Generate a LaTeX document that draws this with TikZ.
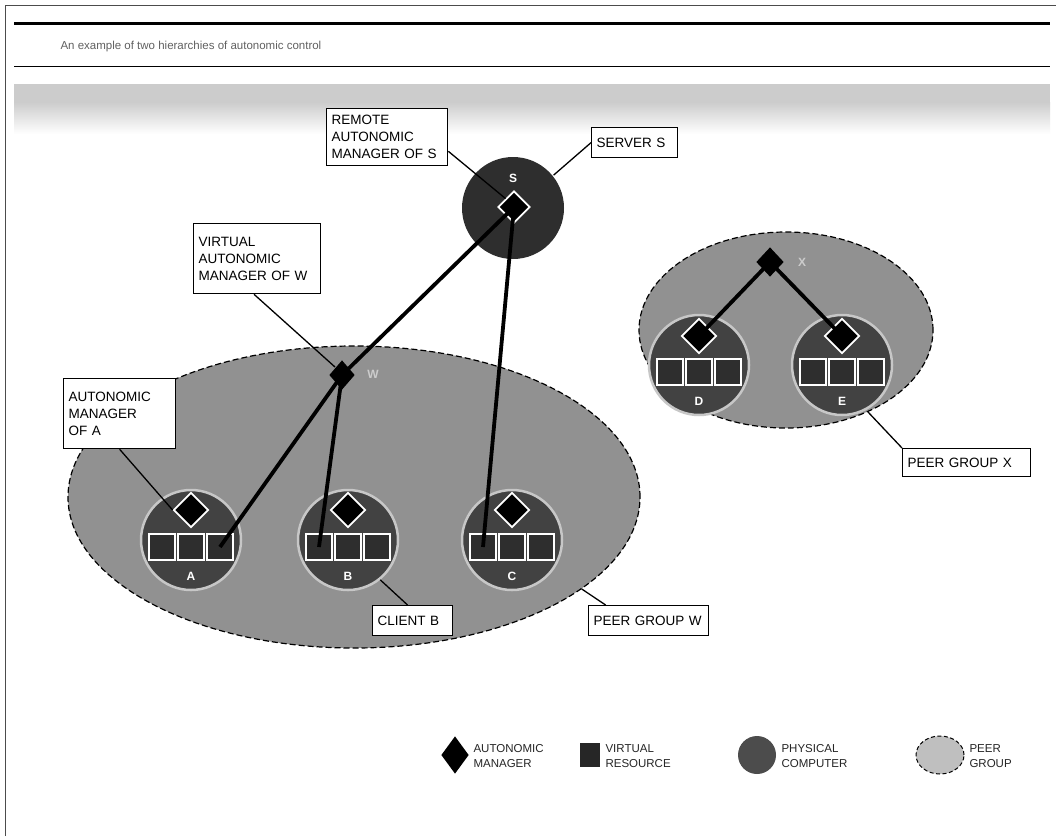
\documentclass[tikz,border=0pt]{standalone}
\usepackage{fontspec}
\setmainfont{Liberation Sans}
\usetikzlibrary{shapes.geometric,calc}

\newcommand{\calloutfont}{\fontsize{13.5}{17}\selectfont}
\newcommand{\legendfont}{\fontsize{11.5}{15}\selectfont}

\begin{document}
\begin{tikzpicture}[x=1pt,y=-1pt,
  peergroup/.style={ellipse, draw=black, line width=1.2, dash pattern=on 6 off 3,
                    fill=black!43, inner sep=0},
  computer/.style={circle, fill=black!74, draw=black!22, line width=2.5,
                   minimum size=100, inner sep=0},
  manager/.style={diamond, fill=black, draw=white, line width=1.8,
                  minimum width=35, minimum height=35, inner sep=0},
  resource/.style={rectangle, fill=black!82, draw=white, line width=1.5,
                   minimum size=26, inner sep=0},
  control/.style={line width=3.8, black},
  leader/.style={line width=1.3, black},
  callout/.style={draw, line width=1.3, fill=white, align=left, anchor=north west,
                  inner xsep=5, inner ysep=0, font=\calloutfont},
  pclabel/.style={text=white, font=\bfseries\fontsize{12}{12}\selectfont},
  legendtext/.style={anchor=west, align=left, font=\legendfont, text=black!85}
]
\useasboundingbox (0,0) rectangle (1056,836);
\fill[white] (0,0) rectangle (1056,836);

% page frame and title rules
\coordinate (frameTL) at (5,5);
\coordinate (frameTR) at (1056,5);
\coordinate (frameBL) at (5,836);
\draw[line width=1, black!70] (frameBL) -- (frameTL) -- (frameTR);
\coordinate (ruleA1) at (14,23);
\coordinate (ruleA2) at (1050,23);
\draw[line width=3] (ruleA1) -- (ruleA2);
\coordinate (ruleB1) at (14,66);
\coordinate (ruleB2) at (1050,66);
\draw[line width=1] (ruleB1) -- (ruleB2);
\node[anchor=base west, text=black!62, font=\fontsize{11.5}{14}\selectfont] (title)
  at (57,49) {An example of two hierarchies of autonomic control};

% grey band under the heading
\fill[black!20] (14,84) rectangle (1050,102);
\shade[top color=black!20, bottom color=white] (14,102) rectangle (1050,134);

% peer groups
\node[peergroup, minimum width=572, minimum height=302] (pgW) at (354,497) {};
\node[peergroup, minimum width=294, minimum height=196] (pgX) at (786,330) {};

% physical computers
\node[computer, fill=black!82, draw=none, minimum size=102] (pcS) at (513,208) {};
\node[computer] (pcA) at (191,540) {};
\node[computer] (pcB) at (348,540) {};
\node[computer] (pcC) at (512,540) {};
\node[computer] (pcD) at (699,365) {};
\node[computer] (pcE) at (842,365) {};

% computer names
\node[pclabel] (nameS) at (513,178) {S};
\node[pclabel] (nameA) at (191,576) {A};
\node[pclabel] (nameB) at (348,576) {B};
\node[pclabel] (nameC) at (512,576) {C};
\node[pclabel] (nameD) at (699,401) {D};
\node[pclabel] (nameE) at (842,401) {E};
\node[pclabel, text=white!80!black] (nameW) at (373,374) {W};
\node[pclabel, text=white!80!black] (nameX) at (802,262) {X};

% virtual resources
\foreach \c/\x/\y in {A/191/547, B/348/547, C/512/547, D/699/372, E/842/372} {
  \node[resource] (vr\c1) at (\x-29,\y) {};
  \node[resource] (vr\c2) at (\x,\y) {};
  \node[resource] (vr\c3) at (\x+29,\y) {};
}

% callouts
\node[callout, text width=111, minimum height=57] (lblRemote) at (326,108)
  {REMOTE\\AUTONOMIC\\MANAGER OF S};
\node[callout, text width=76, minimum height=30] (lblServer) at (591,127) {SERVER S};
\node[callout, text width=117, minimum height=70] (lblVirtual) at (193,223)
  {VIRTUAL\\AUTONOMIC\\MANAGER OF W};
\node[callout, text width=102, minimum height=70] (lblA) at (63,378)
  {AUTONOMIC\\MANAGER\\OF A};
\node[callout, text width=70, minimum height=30] (lblClient) at (372,605) {CLIENT B};
\node[callout, text width=110, minimum height=30] (lblPeerW) at (588,605) {PEER GROUP W};
\node[callout, text width=118, minimum height=28] (lblPeerX) at (902,448) {PEER GROUP X};

% autonomic managers
\node[manager, minimum width=32, minimum height=32] (amS) at (514,207) {};
\node[manager] (amA) at (191,510) {};
\node[manager] (amB) at (348,510) {};
\node[manager] (amC) at (512,510) {};
\node[manager] (amD) at (699,336) {};
\node[manager] (amE) at (842,336) {};
\node[manager, draw=none, minimum width=26, minimum height=30] (amW) at (342,375) {};
\node[manager, draw=none, minimum width=28, minimum height=30] (amX) at (770,262) {};

% leaders from the callouts
\draw[leader] (lblRemote.-13) -- (amS.north west);
\draw[leader] (lblServer.west) -- (pcS.39);
\draw[leader] (lblVirtual.-95) -- (amW.north west);
\draw[leader] (lblA.-90) -- (amA.west);
\draw[leader] (lblClient.108) -- (pcB.-51);
\draw[leader] (lblPeerW.160) -- (pgW.-22);
\draw[leader] (lblPeerX.north west) -- (pgX.-45);

% control hierarchy
\draw[control] (amS.center) -- (amW.center);
\draw[control] (amW.center) -- (vrA3.center);
\draw[control] (amW.center) -- (vrB1.center);
\draw[control] (amS.center) -- (vrC1.center);
\draw[control] (amX.center) -- (amD.center);
\draw[control] (amX.center) -- (amE.center);

% legend
\node[manager, draw=none, minimum width=28, minimum height=38] (legAM) at (455,755) {};
\node[legendtext] (legAMtext) at (470,756) {AUTONOMIC\\MANAGER};
\node[rectangle, fill=black!85, minimum width=20, minimum height=24, inner sep=0] (legVR) at (590,755) {};
\node[legendtext] (legVRtext) at (602,756) {VIRTUAL\\RESOURCE};
\node[circle, fill=black!70, minimum size=38, inner sep=0] (legPC) at (757,755) {};
\node[legendtext] (legPCtext) at (778,756) {PHYSICAL\\COMPUTER};
\node[ellipse, draw=black, line width=1, dash pattern=on 4 off 2.5, fill=black!25,
      minimum width=48, minimum height=38, inner sep=0] (legPG) at (940,755) {};
\node[legendtext] (legPGtext) at (966,756) {PEER\\GROUP};
\end{tikzpicture}
\end{document}
